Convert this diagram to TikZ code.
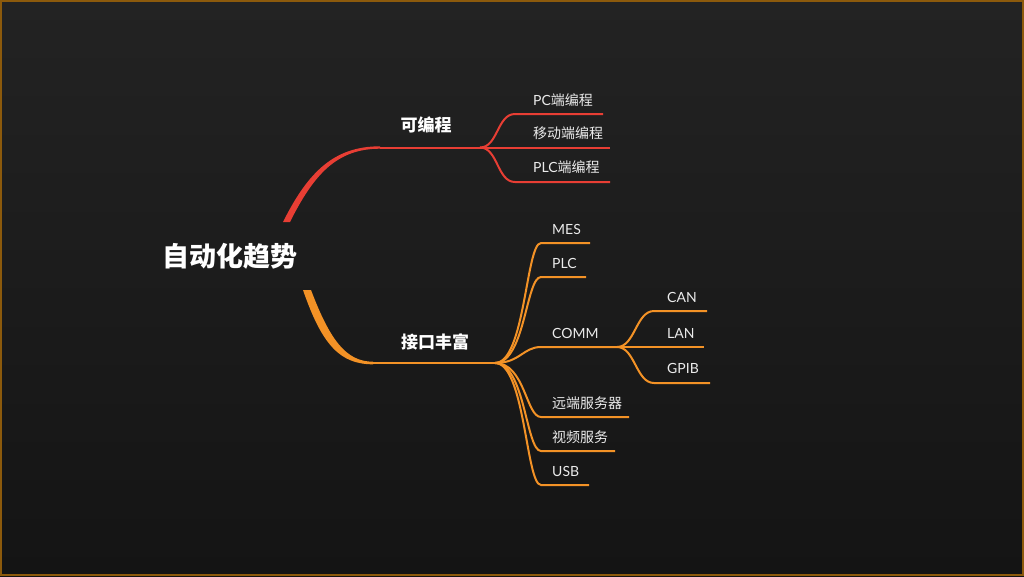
\documentclass[tikz,border=0pt]{standalone}
\usepackage{fontspec}
\setmainfont{Lato}
\newfontfamily\cjk{Noto Sans CJK SC}
\usetikzlibrary{positioning}
\definecolor{mmred}   {RGB}{232, 62, 52}
\definecolor{mmorange}{RGB}{243,146, 38}
\definecolor{bgtop}   {RGB}{ 35, 35, 35}
\definecolor{bgbot}   {RGB}{ 20, 20, 20}
\definecolor{mmframe} {RGB}{140, 90, 12}
\tikzset{
  rootlbl/.style={font=\cjk\bfseries\fontsize{27}{30}\selectfont,text=white,inner sep=0pt},
  mainlbl/.style={font=\cjk\bfseries\fontsize{17}{20}\selectfont,text=white,inner sep=0pt},
  leaflbl/.style={font=\fontsize{14}{16}\selectfont,text=white!92!black,
    anchor=west,inner sep=0pt},
  redln/.style={draw=mmred,line width=2pt},
  orgln/.style={draw=mmorange,line width=2pt},
}

\begin{document}
\begin{tikzpicture}[x=1pt,y=-1pt]
  % background
  \useasboundingbox (0,0) rectangle (1024,576);
  \fill[top color=bgtop,bottom color=bgbot] (0,0) rectangle (1024,576);
  \draw[mmframe,line width=2pt] (1,1) rectangle (1023,575);

  % root
  \node[rootlbl] (root) at (230,256) {自动化趋势};

  % red branch
  \coordinate (rk) at (380,147.5);
  \coordinate (rs) at (480,147.5);
  \fill[mmred] (283,222) .. controls (308,172) and (334,146.3) .. (380,146.3)
    -- (380,148.7) .. controls (337,148.7) and (314,174) .. (290,222) -- cycle;
  \draw[redln] (rk) -- (rs);
  \node[mainlbl] (prog) at (426,125) {可编程};

  \coordinate (pc-a) at (515,114);   \coordinate (pc-b) at (603,114);
  \coordinate (mob-b) at (610,147.5);
  \coordinate (plcp-a) at (515,182); \coordinate (plcp-b) at (610,182);
  \draw[redln] (rs) .. controls +(18,0) and +(-18,0) .. (pc-a) -- (pc-b);
  \draw[redln] (rs) -- (mob-b);
  \draw[redln] (rs) .. controls +(18,0) and +(-18,0) .. (plcp-a) -- (plcp-b);
  \node[leaflbl] (pc)   at (533,100) {PC{\cjk 端编程}};
  \node[leaflbl] (mob)  at (533,133) {\cjk 移动端编程};
  \node[leaflbl] (plcp) at (533,167) {PLC{\cjk 端编程}};

  % orange branch
  \coordinate (ok) at (373,363);
  \coordinate (os) at (495,363);
  \fill[mmorange] (303,290) .. controls (322,345) and (340,364.3) .. (373,364.3)
    -- (373,361.7) .. controls (346,361.7) and (330,340) .. (311,290) -- cycle;
  \draw[orgln] (ok) -- (os);
  \node[mainlbl] (intf) at (435,342) {接口丰富};

  \coordinate (mes-a) at (541,243);  \coordinate (mes-b) at (590,243);
  \coordinate (plc-a) at (541,277);  \coordinate (plc-b) at (586,277);
  \coordinate (comm-a) at (541,347); \coordinate (cs) at (617,347);
  \coordinate (rem-a) at (541,417);  \coordinate (rem-b) at (629,417);
  \coordinate (vid-a) at (541,451);  \coordinate (vid-b) at (615,451);
  \coordinate (usb-a) at (541,485);  \coordinate (usb-b) at (589,485);
  \foreach \p in {mes,plc,rem,vid,usb}
    \draw[orgln] (os) .. controls +(30,0) and +(-15,0) .. (\p-a) -- (\p-b);
  \draw[orgln] (os) .. controls +(25,0) and +(-18,0) .. (comm-a) -- (cs);
  \node[leaflbl] (mes)  at (552,229) {MES};
  \node[leaflbl] (plc)  at (552,263) {PLC};
  \node[leaflbl] (comm) at (552,333) {COMM};
  \node[leaflbl] (rem)  at (552,403) {\cjk 远端服务器};
  \node[leaflbl] (vid)  at (552,437) {\cjk 视频服务};
  \node[leaflbl] (usb)  at (552,471) {USB};

  % COMM sub-branch
  \coordinate (can-a) at (654,311);  \coordinate (can-b) at (707,311);
  \coordinate (lan-b) at (704,347);
  \coordinate (gpib-a) at (654,383); \coordinate (gpib-b) at (710,383);
  \draw[orgln] (cs) .. controls +(18,0) and +(-18,0) .. (can-a) -- (can-b);
  \draw[orgln] (cs) -- (lan-b);
  \draw[orgln] (cs) .. controls +(18,0) and +(-18,0) .. (gpib-a) -- (gpib-b);
  \node[leaflbl] (can)  at (667,297) {CAN};
  \node[leaflbl] (lan)  at (667,333) {LAN};
  \node[leaflbl] (gpib) at (667,368) {GPIB};
\end{tikzpicture}
\end{document}
